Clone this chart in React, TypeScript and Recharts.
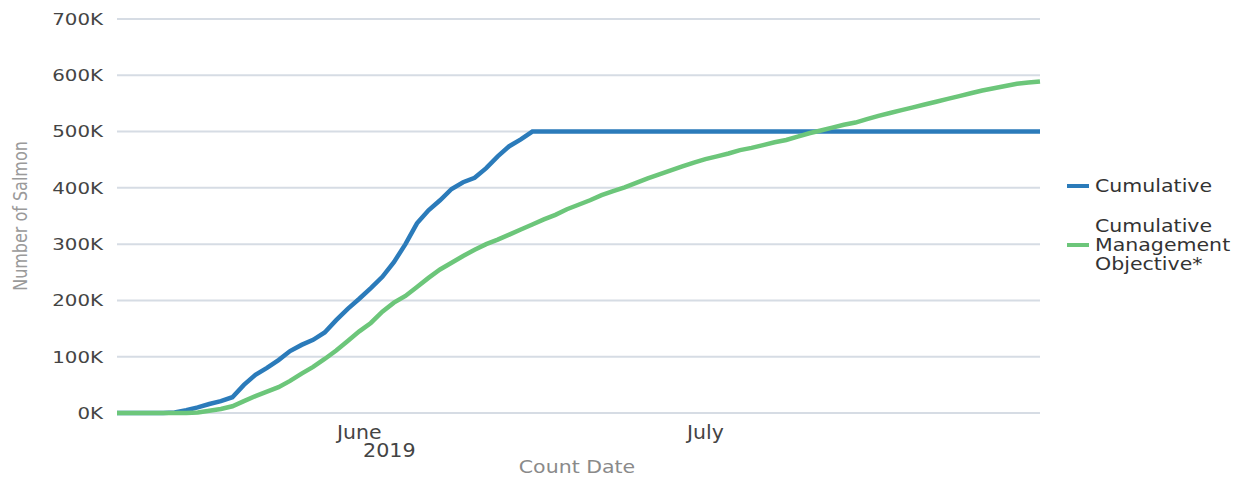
import React from 'react';
import { LineChart, Line, XAxis, YAxis, CartesianGrid, Legend } from 'recharts';

// Day offsets from 2019-05-11 (index 0) to 2019-07-30 (index 80)
const cumulative: number[] = [
  0, 0, 0, 0, 0, 1000, 5000, 10000, 16000, 21000,
  28000, 50000, 68000, 80000, 94000, 110000, 121000, 130000, 143000, 165000,
  185000, 203000, 222000, 242000, 268000, 300000, 337000, 360000, 378000, 398000,
  410000, 418000, 435000, 456000, 474000, 486000, 500000, 500000, 500000, 500000,
  500000, 500000, 500000, 500000, 500000, 500000, 500000, 500000, 500000, 500000,
  500000, 500000, 500000, 500000, 500000, 500000, 500000, 500000, 500000, 500000,
  500000, 500000, 500000, 500000, 500000, 500000, 500000, 500000, 500000, 500000,
  500000, 500000, 500000, 500000, 500000, 500000, 500000, 500000, 500000, 500000,
  500000,
];

const objective: number[] = [
  0, 0, 0, 0, 0, 0, 0, 1000, 4000, 7000,
  12000, 21000, 30000, 38000, 46000, 57000, 70000, 82000, 96000, 111000,
  128000, 145000, 160000, 180000, 196000, 208000, 224000, 240000, 255000, 267000,
  279000, 290000, 300000, 308000, 317000, 326000, 335000, 344000, 352000, 362000,
  370000, 378000, 387000, 394000, 401000, 409000, 417000, 424000, 431000, 438000,
  445000, 451000, 456000, 461000, 467000, 471000, 476000, 481000, 485000, 491000,
  497000, 502000, 507000, 512000, 516000, 522000, 528000, 533000, 538000, 543000,
  548000, 553000, 558000, 563000, 568000, 573000, 577000, 581000, 585000, 587000,
  589000,
];

const dayOffsets: number[] = cumulative.map((_, i) => i);
const monthTicks: number[] = [21, 51];
const monthLabels: string[] = ['June', 'July'];
const yearLabel = '2019';
const yTicks: number[] = [0, 100000, 200000, 300000, 400000, 500000, 600000, 700000];

const seriesNames = ['Cumulative', 'Cumulative Management Objective*'];
const legendLines: string[][] = [['Cumulative'], ['Cumulative', 'Management', 'Objective*']];
const colors = ['#2b7bba', '#6cc67a'];

const data = dayOffsets.map((d, i) => ({
  day: d,
  cumulative: cumulative[i],
  objective: objective[i],
}));

const FONT = '"DejaVu Sans", Verdana, sans-serif';

const YTick = (props: any) => {
  const { y, payload } = props;
  return (
    <g transform={`translate(103,${y}) scale(1.2,1)`}>
      <text
        x={0}
        y={0}
        textAnchor="end"
        dominantBaseline="central"
        fill="#444"
        fontSize={16.5}
        fontFamily={FONT}
      >
        {`${Math.round(payload.value / 1000)}K`}
      </text>
    </g>
  );
};

const XTick = (props: any) => {
  const { x, y, payload } = props;
  const idx = monthTicks.indexOf(payload.value);
  const label = idx >= 0 ? monthLabels[idx] : '';
  return (
    <g>
      <g transform={`translate(${x},${y + 26}) scale(1.05,1)`}>
        <text x={0} y={0} textAnchor="middle" fill="#444" fontSize={19.5} fontFamily={FONT}>
          {label}
        </text>
      </g>
      {idx === 0 && (
        <g transform={`translate(${x + 30},${y + 44}) scale(1.06,1)`}>
          <text x={0} y={0} textAnchor="middle" fill="#444" fontSize={19.5} fontFamily={FONT}>
            {yearLabel}
          </text>
        </g>
      )}
    </g>
  );
};

const LegendContent = () => (
  <div style={{ fontFamily: FONT, fontSize: 18, color: '#333', lineHeight: '19px' }}>
    {legendLines.map((lines, i) => (
      <div
        key={seriesNames[i]}
        style={{ display: 'flex', alignItems: 'center', marginBottom: i === 0 ? 21 : 0 }}
      >
        <div style={{ width: 22, height: 4, background: colors[i], marginRight: 6, flex: 'none' }} />
        <div style={{ transform: 'scaleX(1.14)', transformOrigin: 'left center', whiteSpace: 'nowrap' }}>
          {lines.map((l) => (
            <div key={l}>{l}</div>
          ))}
        </div>
      </div>
    ))}
  </div>
);

export default function App() {
  return (
    <div style={{ position: 'absolute', left: 0, top: 0, width: 1245, height: 477, background: '#fff' }}>
      <LineChart
        width={1245}
        height={477}
        data={data}
        margin={{ top: 19, right: 205, bottom: 0, left: 0 }}
      >
        <CartesianGrid vertical={false} stroke="#d6dce4" strokeWidth={2} />
        <XAxis
          dataKey="day"
          type="number"
          domain={[0, 80]}
          ticks={monthTicks}
          tick={<XTick />}
          tickLine={false}
          axisLine={false}
          tickSize={0}
          tickMargin={0}
          height={64}
          interval={0}
        />
        <YAxis
          domain={[0, 700000]}
          ticks={yTicks}
          tick={<YTick />}
          tickLine={false}
          axisLine={false}
          width={117}
          interval={0}
        />
        <Legend
          layout="horizontal"
          verticalAlign="middle"
          align="center"
          content={<LegendContent />}
          wrapperStyle={{ position: 'absolute', left: 1067, top: 176, width: 178 }}
        />
        <Line
          type="linear"
          dataKey="cumulative"
          name={seriesNames[0]}
          stroke={colors[0]}
          strokeWidth={4.5}
          dot={false}
          isAnimationActive={false}
        />
        <Line
          type="linear"
          dataKey="objective"
          name={seriesNames[1]}
          stroke={colors[1]}
          strokeWidth={4.5}
          dot={false}
          isAnimationActive={false}
        />
        <g transform="translate(577,473) scale(1.14,1)">
          <text x={0} y={0} textAnchor="middle" fill="#8a8a8a" fontSize={18} fontFamily={FONT}>
            Count Date
          </text>
        </g>
        <g transform="translate(27,216) scale(1.2,1) rotate(-90)">
          <text x={0} y={0} textAnchor="middle" fill="#9a9a9a" fontSize={16} fontFamily={FONT}>
            Number of Salmon
          </text>
        </g>
      </LineChart>
    </div>
  );
}
